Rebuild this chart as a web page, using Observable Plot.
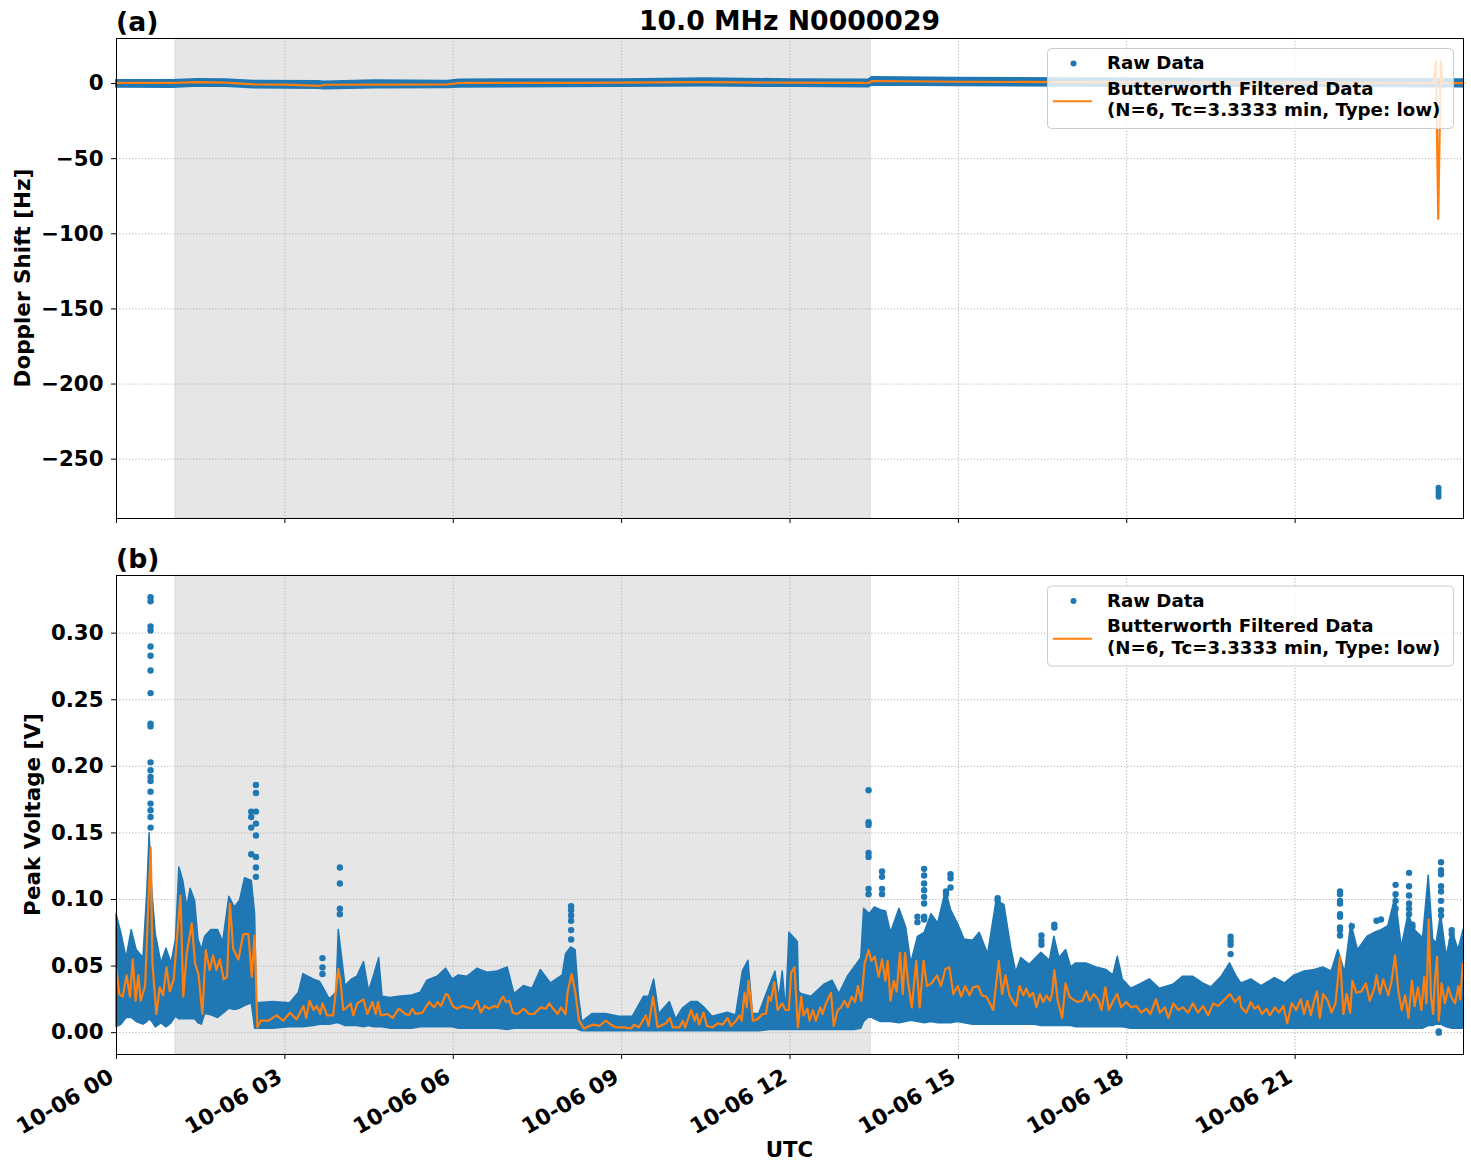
<!DOCTYPE html>
<html><head><meta charset="utf-8">
<script src="https://cdn.jsdelivr.net/npm/d3@7"></script>
<script src="https://cdn.jsdelivr.net/npm/@observablehq/plot@0.6"></script>
<style>
body{margin:0;background:#fff;}
#wrap{position:relative;width:1471px;height:1172px;background:#fff;}
#wrap svg{position:absolute;left:0;}
</style></head><body><div id="wrap"></div>
<script>
// ---------- data (hours since 2024-10-06 00:00 UTC) ----------
const tickHours = [0, 3, 6, 9, 12, 15, 18, 21];
const tickLabels = ["10-06 00", "10-06 03", "10-06 06", "10-06 09", "10-06 12", "10-06 15", "10-06 18", "10-06 21"];
const dopplerTicks = [0, -50, -100, -150, -200, -250];
const voltageTicks = [0, 0.05, 0.10, 0.15, 0.20, 0.25, 0.30];
const nightSpan = [1.05, 13.44];

// Doppler raw envelope rows: [hour, low, high] (Hz)
const dopplerRaw = [[0,-2.4,2.0],[1.0,-2.6,2.0],[1.45,-1.8,2.7],[1.95,-2.0,2.5],[2.45,-3.0,1.6],[3.6,-3.3,1.4],[3.7,-3.6,1.0],[4.6,-3.0,1.8],[5.9,-2.8,1.6],[6.1,-2.4,2.4],[9.0,-2.0,2.6],[10.5,-1.6,3.2],[12.0,-2.0,2.6],[13.4,-2.3,2.4],[13.46,-1.2,4.0],[15.0,-1.5,3.5],[18.0,-2.0,3.0],[21.0,-2.0,2.8],[24.0,-2.2,2.5]];
const dopplerOutliers = [[23.555,-269],[23.555,-271],[23.556,-273],[23.556,-275]];
const dopplerFiltered = [[0,0.4],[1.0,0.4],[1.45,0.9],[1.95,0.6],[2.45,-0.5],[3.0,-0.7],[3.62,-1.6],[3.7,-0.8],[4.6,-0.7],[5.9,-0.5],[6.1,0.4],[8.0,0.5],[10.5,0.9],[12.0,0.6],[13.4,0.4],[13.46,1.7],[15.0,1.2],[18.0,0.8],[21.0,0.6],[23.47,0.3],[23.508,15],[23.55,-90],[23.596,15],[23.63,0.3],[24,0.3]];

// Peak voltage raw envelope rows: [hour, low, high] (V)
const voltageRaw = [[0.00,.004,.089],[0.09,.006,.074],[0.18,.011,.056],[0.27,.011,.077],[0.36,.008,.062],[0.48,.006,.056],[0.55,.008,.107],[0.59,.010,.150],[0.64,.008,.105],[0.70,.004,.074],[0.80,.007,.052],[0.89,.004,.063],[0.98,.007,.052],[1.06,.012,.070],[1.12,.010,.124],[1.19,.010,.114],[1.26,.010,.094],[1.32,.010,.108],[1.40,.010,.099],[1.46,.007,.070],[1.52,.006,.062],[1.58,.014,.072],[1.69,.013,.077],[1.81,.011,.077],[1.90,.014,.068],[2.01,.018,.102],[2.11,.017,.094],[2.20,.018,.099],[2.29,.020,.116],[2.41,.022,.114],[2.47,.003,.089],[2.50,.003,.022],[2.79,.003,.023],[3.09,.004,.022],[3.25,.004,.030],[3.33,.004,.044],[3.51,.005,.040],[3.63,.006,.038],[3.80,.006,.025],[3.92,.007,.030],[3.96,.007,.077],[4.02,.006,.056],[4.08,.005,.035],[4.20,.005,.040],[4.29,.005,.042],[4.41,.004,.053],[4.50,.005,.031],[4.59,.004,.043],[4.68,.004,.056],[4.74,.004,.027],[4.89,.003,.026],[5.03,.003,.027],[5.27,.003,.028],[5.42,.004,.030],[5.54,.004,.039],[5.72,.004,.042],[5.87,.004,.048],[5.99,.004,.040],[6.10,.003,.043],[6.25,.003,.042],[6.43,.003,.048],[6.61,.003,.045],[6.79,.003,.046],[6.97,.002,.049],[7.09,.003,.029],[7.26,.003,.035],[7.41,.003,.033],[7.56,.003,.047],[7.74,.003,.037],[7.95,.003,.043],[8.01,.003,.059],[8.10,.003,.064],[8.18,.003,.062],[8.24,.002,.027],[8.30,.001,.008],[8.48,.001,.014],[8.72,.001,.014],[8.96,.001,.012],[9.20,.001,.012],[9.40,.001,.027],[9.49,.001,.027],[9.58,.001,.040],[9.67,.001,.014],[9.86,.001,.023],[9.97,.001,.010],[10.09,.001,.018],[10.24,.001,.023],[10.36,.001,.023],[10.47,.001,.019],[10.62,.001,.012],[10.89,.001,.015],[11.04,.001,.013],[11.16,.001,.046],[11.26,.001,.054],[11.34,.001,.014],[11.45,.001,.014],[11.63,.002,.034],[11.74,.002,.046],[11.81,.002,.025],[11.87,.002,.046],[11.93,.002,.016],[11.99,.002,.075],[12.14,.002,.068],[12.16,.002,.031],[12.20,.002,.029],[12.38,.002,.027],[12.61,.002,.036],[12.76,.002,.039],[12.88,.002,.029],[13.03,.002,.042],[13.15,.002,.049],[13.27,.003,.056],[13.32,.008,.093],[13.42,.012,.089],[13.51,.010,.094],[13.62,.008,.092],[13.71,.008,.091],[13.80,.008,.075],[13.95,.007,.093],[14.07,.008,.079],[14.16,.009,.052],[14.28,.008,.072],[14.40,.007,.075],[14.52,.008,.089],[14.64,.007,.082],[14.78,.007,.107],[14.87,.007,.092],[14.99,.008,.082],[15.11,.007,.070],[15.26,.006,.069],[15.38,.006,.075],[15.53,.006,.059],[15.68,.006,.099],[15.82,.006,.096],[15.94,.006,.064],[16.03,.006,.045],[16.12,.006,.056],[16.27,.006,.051],[16.36,.006,.055],[16.48,.005,.060],[16.63,.005,.054],[16.71,.005,.072],[16.80,.005,.056],[16.92,.005,.062],[17.01,.005,.049],[17.10,.004,.052],[17.28,.004,.052],[17.46,.004,.049],[17.64,.004,.047],[17.76,.004,.043],[17.84,.004,.057],[17.93,.004,.040],[18.08,.003,.033],[18.23,.003,.036],[18.41,.003,.040],[18.59,.003,.033],[18.83,.003,.036],[19.00,.003,.042],[19.18,.003,.042],[19.36,.003,.037],[19.51,.003,.034],[19.69,.003,.042],[19.84,.003,.052],[19.96,.003,.042],[20.04,.003,.037],[20.22,.003,.040],[20.40,.003,.035],[20.64,.003,.041],[20.82,.003,.037],[20.99,.003,.043],[21.17,.003,.046],[21.35,.003,.047],[21.50,.003,.049],[21.65,.003,.046],[21.77,.003,.062],[21.89,.003,.045],[22.00,.003,.082],[22.12,.003,.062],[22.29,.003,.072],[22.42,.003,.075],[22.54,.003,.077],[22.66,.003,.080],[22.79,.003,.102],[22.90,.003,.064],[23.02,.003,.089],[23.13,.003,.077],[23.28,.003,.071],[23.38,.005,.118],[23.46,.005,.070],[23.52,.006,.067],[23.60,.006,.089],[23.70,.004,.057],[23.80,.003,.077],[23.91,.003,.062],[24.00,.003,.077]];

// isolated raw points above the dense band
const voltageSpikeTimes = [0.607, 2.40, 2.485, 3.67, 3.98, 8.10, 13.40, 13.64, 14.27, 14.39, 14.78, 14.86, 15.70, 16.48, 16.71, 19.85, 21.80, 22.01, 22.45, 22.53, 22.79, 23.03, 23.09, 23.28, 23.56, 23.60, 23.79];
const voltageSpikeValues = [
  [0.327,0.324,0.305,0.302,0.290,0.283,0.272,0.255,0.232,0.230,0.203,0.197,0.192,0.189,0.181,0.172,0.167,0.162,0.154],
  [0.166,0.162,0.154,0.134],
  [0.186,0.180,0.166,0.157,0.148,0.132,0.124,0.117],
  [0.056,0.049,0.044],
  [0.124,0.112,0.093,0.089],
  [0.095,0.092,0.088,0.084,0.077,0.070],
  [0.182,0.158,0.156,0.135,0.132,0.108,0.104],
  [0.121,0.117,0.108,0.104],
  [0.087,0.083],
  [0.123,0.118,0.112,0.107,0.102,0.097,0.087,0.085],
  [0.106,0.104],
  [0.119,0.116,0.109],
  [0.101,0.099],
  [0.073,0.069,0.066],
  [0.081,0.079],
  [0.072,0.069,0.066,0.059],
  [0.106,0.104,0.099,0.097,0.089,0.087,0.079,0.077,0.073],
  [0.080],
  [0.084],
  [0.085],
  [0.111,0.104,0.099,0.093],
  [0.120,0.110,0.103,0.097,0.093,0.089],
  [0.081,0.079],
  [0.069],
  [0.000,0.001],
  [0.128,0.122,0.119,0.110,0.106,0.099,0.092,0.088],
  [0.077,0.074,0.069]
];

// Butterworth filtered peak voltage rows: [hour, V]
const voltageFiltered = [[0,.047],[.05,.029],[.11,.027],[.18,.043],[.24,.027],[.29,.055],[.34,.024],[.39,.043],[.43,.024],[.51,.035],[.56,.089],[.61,.139],[.64,.052],[.71,.014],[.77,.034],[.83,.028],[.89,.049],[.95,.031],[1.02,.040],[1.08,.072],[1.14,.103],[1.19,.027],[1.25,.059],[1.34,.082],[1.40,.052],[1.46,.044],[1.53,.014],[1.59,.062],[1.66,.047],[1.72,.058],[1.78,.047],[1.84,.055],[1.91,.040],[1.97,.042],[2.02,.097],[2.08,.063],[2.17,.055],[2.26,.074],[2.35,.074],[2.41,.042],[2.46,.073],[2.51,.004],[2.57,.009],[2.71,.009],[2.85,.013],[2.97,.009],[3.09,.015],[3.21,.010],[3.33,.020],[3.38,.011],[3.44,.024],[3.51,.017],[3.57,.020],[3.63,.014],[3.67,.022],[3.75,.013],[3.86,.013],[3.95,.048],[3.99,.039],[4.04,.017],[4.11,.019],[4.17,.022],[4.22,.013],[4.29,.022],[4.40,.025],[4.47,.014],[4.56,.023],[4.62,.014],[4.66,.023],[4.71,.013],[4.83,.014],[4.92,.011],[5.03,.018],[5.15,.014],[5.21,.013],[5.27,.018],[5.33,.014],[5.45,.015],[5.57,.023],[5.66,.019],[5.72,.023],[5.78,.020],[5.87,.029],[5.91,.028],[5.99,.020],[6.07,.018],[6.16,.020],[6.25,.019],[6.34,.018],[6.43,.024],[6.49,.015],[6.56,.020],[6.64,.018],[6.73,.020],[6.79,.019],[6.85,.025],[6.89,.027],[6.94,.023],[7.00,.024],[7.06,.015],[7.14,.014],[7.26,.018],[7.35,.014],[7.44,.014],[7.56,.019],[7.65,.018],[7.71,.022],[7.80,.017],[7.86,.014],[7.92,.019],[8.00,.014],[8.04,.031],[8.11,.044],[8.18,.029],[8.24,.009],[8.33,.003],[8.42,.005],[8.51,.006],[8.60,.005],[8.72,.009],[8.81,.006],[8.90,.004],[9.05,.004],[9.17,.003],[9.22,.006],[9.31,.004],[9.43,.013],[9.48,.005],[9.56,.027],[9.64,.004],[9.73,.006],[9.79,.007],[9.86,.011],[9.91,.004],[10.03,.004],[10.09,.009],[10.13,.004],[10.24,.017],[10.30,.009],[10.34,.014],[10.38,.006],[10.46,.015],[10.52,.005],[10.62,.004],[10.71,.007],[10.80,.006],[10.89,.011],[10.95,.005],[11.04,.009],[11.10,.013],[11.14,.009],[11.19,.030],[11.23,.019],[11.26,.039],[11.34,.009],[11.42,.010],[11.51,.014],[11.57,.014],[11.62,.027],[11.66,.024],[11.72,.038],[11.78,.017],[11.86,.022],[11.92,.017],[11.98,.017],[12.02,.045],[12.08,.049],[12.14,.004],[12.20,.027],[12.24,.013],[12.31,.018],[12.35,.009],[12.41,.017],[12.46,.009],[12.54,.019],[12.58,.014],[12.64,.022],[12.73,.030],[12.78,.005],[12.85,.017],[12.91,.019],[12.97,.024],[13.03,.019],[13.10,.027],[13.16,.023],[13.21,.035],[13.27,.024],[13.33,.052],[13.40,.062],[13.45,.054],[13.51,.057],[13.58,.042],[13.64,.055],[13.70,.039],[13.74,.054],[13.79,.024],[13.85,.039],[13.90,.031],[13.96,.060],[14.01,.029],[14.05,.060],[14.10,.039],[14.17,.019],[14.25,.054],[14.31,.019],[14.38,.054],[14.44,.035],[14.52,.037],[14.62,.043],[14.69,.035],[14.77,.048],[14.84,.049],[14.91,.029],[14.99,.035],[15.05,.027],[15.12,.035],[15.20,.028],[15.26,.034],[15.35,.035],[15.42,.028],[15.50,.027],[15.56,.022],[15.62,.017],[15.72,.054],[15.78,.029],[15.84,.043],[15.91,.028],[15.99,.022],[16.03,.020],[16.09,.035],[16.16,.028],[16.21,.033],[16.27,.027],[16.33,.030],[16.39,.019],[16.45,.029],[16.51,.023],[16.57,.028],[16.63,.024],[16.67,.029],[16.71,.047],[16.77,.024],[16.85,.011],[16.91,.037],[16.98,.027],[17.04,.025],[17.13,.023],[17.21,.024],[17.28,.031],[17.34,.024],[17.41,.029],[17.49,.025],[17.55,.017],[17.62,.034],[17.68,.017],[17.76,.024],[17.83,.029],[17.90,.019],[17.99,.023],[18.08,.019],[18.17,.020],[18.26,.015],[18.35,.018],[18.42,.014],[18.52,.025],[18.59,.015],[18.68,.019],[18.74,.011],[18.83,.022],[18.92,.017],[19.00,.019],[19.09,.015],[19.18,.022],[19.27,.015],[19.36,.020],[19.45,.013],[19.54,.022],[19.63,.020],[19.72,.024],[19.84,.029],[19.93,.023],[20.01,.027],[20.04,.019],[20.13,.015],[20.21,.023],[20.28,.018],[20.34,.020],[20.41,.014],[20.49,.018],[20.55,.013],[20.64,.019],[20.71,.015],[20.79,.020],[20.86,.007],[20.94,.022],[21.02,.017],[21.10,.025],[21.16,.014],[21.22,.024],[21.28,.013],[21.34,.024],[21.39,.031],[21.44,.011],[21.50,.029],[21.58,.024],[21.65,.015],[21.72,.022],[21.80,.057],[21.86,.014],[21.92,.029],[21.98,.015],[22.02,.039],[22.09,.030],[22.18,.031],[22.26,.037],[22.33,.024],[22.41,.033],[22.45,.043],[22.51,.029],[22.57,.040],[22.66,.028],[22.72,.039],[22.78,.058],[22.84,.031],[22.90,.017],[22.96,.028],[23.02,.011],[23.08,.039],[23.13,.020],[23.19,.034],[23.25,.017],[23.30,.042],[23.34,.022],[23.38,.085],[23.42,.027],[23.46,.014],[23.49,.039],[23.53,.057],[23.56,.009],[23.61,.037],[23.67,.022],[23.73,.034],[23.78,.027],[23.85,.022],[23.91,.035],[23.94,.025],[23.99,.052]];

// ---------- rendering ----------
const BLUE = "#1f77b4", ORANGE = "#ff7f0e";
const base = Date.UTC(2024, 9, 6);
const T = h => new Date(base + h * 3600000);
const tickDates = tickHours.map(T);
const FONT = "'DejaVu Sans', sans-serif";

const voltageSpikes = voltageSpikeTimes.flatMap((h, i) => voltageSpikeValues[i].map(v => [h, v]));

const gridStyle = {stroke: "#b0b0b0", strokeOpacity: 1, strokeWidth: 1, strokeDasharray: "1.2,2"};
const styleBase = {fontFamily: FONT, fontWeight: "bold", fontSize: "21.3px", color: "#000", background: "transparent", overflow: "visible"};

function shade() {
  return Plot.rect([nightSpan], {x1: d => T(d[0]), x2: d => T(d[1]), fill: "#808080", fillOpacity: 0.2, stroke: "#808080", strokeOpacity: 0.2});
}

const plotA = Plot.plot({
  width: 1471, height: 530,
  marginLeft: 116, marginRight: 8, marginTop: 38, marginBottom: 12,
  style: styleBase,
  x: {type: "utc", domain: [T(0), T(24)], label: null},
  y: {domain: [-289.5, 30], label: null},
  marks: [
    shade(),
    Plot.gridX(tickDates, gridStyle),
    Plot.gridY(dopplerTicks, gridStyle),
    Plot.areaY(dopplerRaw, {x: d => T(d[0]), y1: d => d[1], y2: d => d[2], fill: BLUE, stroke: BLUE, strokeWidth: 2}),
    Plot.dot(dopplerOutliers, {x: d => T(d[0]), y: d => d[1], r: 3, fill: BLUE}),
    Plot.line(dopplerFiltered, {x: d => T(d[0]), y: d => d[1], stroke: ORANGE, strokeWidth: 2.2}),
    Plot.frame({stroke: "#000", strokeWidth: 1}),
    Plot.axisX(tickDates, {tickSize: 5, tickFormat: () => "", label: null}),
    Plot.axisY(dopplerTicks, {tickSize: 5, tickPadding: 8, label: null,
      tickFormat: d => d < 0 ? "\u2212" + (-d) : String(d)})
  ]
});

const plotB = Plot.plot({
  width: 1471, height: 642,
  marginLeft: 116, marginRight: 8, marginTop: 45, marginBottom: 118,
  style: styleBase,
  x: {type: "utc", domain: [T(0), T(24)], label: null},
  y: {domain: [-0.0164, 0.3433], label: null},
  marks: [
    shade(),
    Plot.gridX(tickDates, gridStyle),
    Plot.gridY(voltageTicks, gridStyle),
    Plot.areaY(voltageRaw, {x: d => T(d[0]), y1: d => d[1], y2: d => d[2], fill: BLUE, stroke: BLUE, strokeWidth: 1.5, strokeLinejoin: "round"}),
    Plot.dot(voltageSpikes, {x: d => T(d[0]), y: d => d[1], r: 3.2, fill: BLUE}),
    Plot.line(voltageFiltered, {x: d => T(d[0]), y: d => d[1], stroke: ORANGE, strokeWidth: 2.2}),
    Plot.frame({stroke: "#000", strokeWidth: 1}),
    Plot.axisX(tickDates, {tickSize: 5, tickFormat: () => "", label: null}),
    Plot.text(tickHours, {x: h => T(h), text: (h, i) => tickLabels[i], frameAnchor: "bottom",
      rotate: -30, textAnchor: "end", lineAnchor: "top", dx: -9, dy: 13,
      fontSize: 21.8, fontWeight: "bold", fill: "#000"}),
    Plot.axisY(voltageTicks, {tickSize: 5, tickPadding: 8, label: null, tickFormat: d3.format(".2f")})
  ]
});

const wrap = document.getElementById("wrap");
plotA.style.top = "0px";
plotB.style.top = "530px";
wrap.appendChild(plotA);
wrap.appendChild(plotB);

function addText(svg, x, y, str, size, anchor, rot) {
  const t = d3.select(svg).append("text")
    .attr("x", x).attr("y", y)
    .attr("font-family", FONT).attr("font-weight", "bold").attr("font-size", size)
    .attr("text-anchor", anchor).attr("fill", "#000").text(str);
  if (rot) t.attr("transform", `rotate(${rot},${x},${y})`);
  return t;
}

function addLegend(svg, x, y) {
  const g = d3.select(svg).append("g").attr("transform", `translate(${x},${y})`);
  g.append("rect").attr("x", 0).attr("y", 0).attr("width", 406).attr("height", 80).attr("rx", 4)
    .attr("fill", "#fff").attr("fill-opacity", 0.8).attr("stroke", "#cccccc").attr("stroke-width", 1);
  g.append("circle").attr("cx", 26).attr("cy", 15).attr("r", 3).attr("fill", BLUE);
  g.append("line").attr("x1", 5.4).attr("x2", 44.4).attr("y1", 52.7).attr("y2", 52.7)
    .attr("stroke", ORANGE).attr("stroke-width", 2);
  const txt = (ty, s) => g.append("text").attr("x", 59.4).attr("y", ty).attr("text-anchor", "start")
    .attr("font-family", FONT).attr("font-weight", "bold").attr("font-size", 18.2).attr("fill", "#000").text(s);
  txt(20.5, "Raw Data");
  txt(46, "Butterworth Filtered Data");
  txt(67.5, "(N=6, Tc=3.3333 min, Type: low)");
}

// panel (a) annotations
addText(plotA, 789.5, 30, "10.0 MHz N0000029", 26.7, "middle");
addText(plotA, 116, 30.5, "(a)", 26.7, "start");
addText(plotA, 30, 278, "Doppler Shift [Hz]", 21.5, "middle", -90);
addLegend(plotA, 1047.5, 48.5);

// panel (b) annotations
addText(plotB, 116, 37.5, "(b)", 26.7, "start");
addText(plotB, 39.6, 284.5, "Peak Voltage [V]", 21.5, "middle", -90);
addText(plotB, 789.5, 627, "UTC", 21.3, "middle");
addLegend(plotB, 1047.5, 56);
</script></body></html>
